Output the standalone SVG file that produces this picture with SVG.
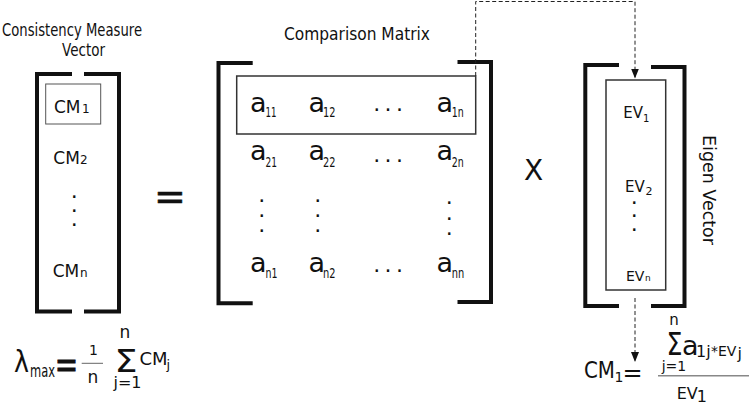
<svg xmlns="http://www.w3.org/2000/svg" width="749" height="405" viewBox="0 0 749 405">
<style>
.t{font-family:"DejaVu Sans","Liberation Sans",sans-serif;fill:#111;}
.br{fill:none;stroke:#111;stroke-width:4;stroke-linejoin:miter;stroke-linecap:butt;}
.box{fill:none;stroke:#333;stroke-width:1.5;}
.dash{fill:none;stroke:#222;stroke-width:1;stroke-dasharray:4 2.5;}
.dot{font-family:"DejaVu Sans",sans-serif;font-size:22px;fill:#111;text-anchor:middle;}
.a{font-size:27px;}
.s{font-size:14px;}
</style>
<defs>
<marker id="arr" markerUnits="userSpaceOnUse" markerWidth="10" markerHeight="8" refX="10" refY="4" orient="auto">
<path d="M0,0 L10,4 L0,8 Z" fill="#111"/>
</marker>
</defs>

<g id="cm-vector">
<text class="t" x="2" y="35.5" font-size="17" textLength="140" lengthAdjust="spacingAndGlyphs">Consistency Measure</text>
<text class="t" x="62" y="55.5" font-size="17" textLength="43" lengthAdjust="spacingAndGlyphs">Vector</text>
<path class="br" d="M72,74 H37 V311.5 H72"/>
<path class="br" d="M84,74 H119 V311.5 H84"/>
<rect x="45.7" y="84" width="55" height="40" fill="none" stroke="#555" stroke-width="1"/>
<text class="t" x="54" y="113" font-size="17">CM<tspan x="82" font-size="12">1</tspan></text>
<text class="t" x="53.3" y="164" font-size="17">CM<tspan x="80" font-size="12">2</tspan></text>
<text class="dot" x="74.3 74.3 74.3" y="198.4 212.4 225.7">...</text>
<text class="t" x="52.7" y="276.7" font-size="17">CM<tspan x="80" font-size="12">n</tspan></text>
</g>

<g id="equals">
<text class="t" x="170" y="208.6" font-size="38" text-anchor="middle" stroke="#111" stroke-width="0.6">=</text>
</g>

<g id="comparison-matrix">
<text class="t" x="284" y="40" font-size="17.5" textLength="146" lengthAdjust="spacingAndGlyphs">Comparison Matrix</text>
<path class="br" d="M252.7,63 H218.5 V303.3 H252.7"/>
<path class="br" d="M457.5,62 H491 V302 H457.5"/>
<rect class="box" x="236.7" y="76" width="239" height="58" stroke="#222"/>
<text class="t a" x="250" y="111.7">a</text><text class="t s" x="265.5" y="116.7" textLength="11" lengthAdjust="spacingAndGlyphs">11</text>
<text class="t a" x="308.4" y="111.7">a</text><text class="t s" x="323" y="116.7" textLength="12.5" lengthAdjust="spacingAndGlyphs">12</text>
<text class="dot" x="376.7 388 399.5" y="111.2">...</text>
<text class="t a" x="436.4" y="111.7">a</text><text class="t s" x="451.7" y="116.7" textLength="12" lengthAdjust="spacingAndGlyphs">1n</text>

<text class="t a" x="250" y="160">a</text><text class="t s" x="265.5" y="166.7" textLength="11.5" lengthAdjust="spacingAndGlyphs">21</text>
<text class="t a" x="308.4" y="160">a</text><text class="t s" x="323" y="166.7" textLength="12.5" lengthAdjust="spacingAndGlyphs">22</text>
<text class="dot" x="376.7 388 399.5" y="161.5">...</text>
<text class="t a" x="436.4" y="160">a</text><text class="t s" x="451.7" y="166.7" textLength="12" lengthAdjust="spacingAndGlyphs">2n</text>

<text class="dot" x="261.7 261.7 261.7" y="201.7 217.4 232.4">...</text>
<text class="dot" x="317.7 317.7 317.7" y="201.7 217.4 232.4">...</text>
<text class="dot" x="449.3 449.3 449.3" y="204 219.7 235">...</text>

<text class="t a" x="250" y="271.7">a</text><text class="t s" x="265.5" y="278.3" textLength="12" lengthAdjust="spacingAndGlyphs">n1</text>
<text class="t a" x="308.4" y="271.7">a</text><text class="t s" x="323" y="278.3" textLength="12.5" lengthAdjust="spacingAndGlyphs">n2</text>
<text class="dot" x="376.7 388 399.5" y="271.7">...</text>
<text class="t a" x="436.4" y="271.7">a</text><text class="t s" x="451.7" y="278.3" textLength="12.5" lengthAdjust="spacingAndGlyphs">nn</text>
</g>

<g id="times">
<text class="t" x="533.5" y="180" font-size="28" text-anchor="middle">X</text>
</g>

<g id="eigen-vector">
<path class="br" d="M619,65 H585.3 V306 H619" stroke-width="4.5"/>
<path class="br" d="M651,67 H684.5 V306 H651" stroke-width="4.5"/>
<rect class="box" x="606" y="80" width="59.7" height="210"/>
<text class="t" x="623.3" y="118.3" font-size="15">EV<tspan x="643" y="121.5" font-size="10">1</tspan></text>
<text class="t" x="625" y="191.7" font-size="15">EV<tspan x="645.5" y="195" font-size="11">2</tspan></text>
<text class="dot" x="634.3 634.3 634.3" y="203.7 217.2 230.7">...</text>
<text class="t" x="626" y="281" font-size="14">EV<tspan x="645" font-size="9">n</tspan></text>
<text class="t" transform="translate(703,135) rotate(90)" x="0" y="0" font-size="17" textLength="110" lengthAdjust="spacingAndGlyphs">Eigen Vector</text>
</g>

<g id="lambda-formula">
<text class="t" x="14" y="372" font-size="31" textLength="15" lengthAdjust="spacingAndGlyphs">λ</text>
<text class="t" x="30" y="376.7" font-size="17" textLength="25" lengthAdjust="spacingAndGlyphs">max</text>
<text class="t" transform="translate(66.5,377) scale(1,1.3)" x="0" y="0" font-size="28" text-anchor="middle" stroke="#111" stroke-width="0.6">=</text>
<text class="t" x="93.5" y="355" font-size="14" text-anchor="middle">1</text>
<line x1="81.7" y1="363.3" x2="103" y2="363.3" stroke="#666" stroke-width="1"/>
<text class="t" x="93" y="383.3" font-size="17" text-anchor="middle">n</text>
<text class="t" x="125" y="338" font-size="17" text-anchor="middle">n</text>
<text class="t" x="114.5" y="372" font-size="32" textLength="23" lengthAdjust="spacingAndGlyphs">Σ</text>
<text class="t" x="127.5" y="388" font-size="16" text-anchor="middle">j=1</text>
<text class="t" x="139.5" y="365" font-size="18">CM</text>
<text class="t" x="166.5" y="369" font-size="13">j</text>
</g>

<g id="cm1-formula">
<text class="t" x="584" y="378.3" font-size="23" textLength="31" lengthAdjust="spacingAndGlyphs">CM</text>
<text class="t" x="614.5" y="381.7" font-size="14">1</text>
<text class="t" x="632.5" y="380.6" font-size="24" text-anchor="middle">=</text>
<line x1="658" y1="375.7" x2="749" y2="375.7" stroke="#888" stroke-width="1.5"/>
<text class="t" x="674" y="325" font-size="15" text-anchor="middle">n</text>
<text class="t" x="666.5" y="355" font-size="32" textLength="16" lengthAdjust="spacingAndGlyphs">Σ</text>
<text class="t" x="682" y="355" font-size="27">a</text>
<text class="t" x="696" y="357.3" font-size="16">1j</text>
<text class="t" x="711" y="356" font-size="14">*EV</text>
<text class="t" x="737.5" y="358.5" font-size="16">j</text>
<text class="t" x="674" y="371" font-size="14" text-anchor="middle">j=1</text>
<text class="t" x="676.7" y="399" font-size="16">EV<tspan x="696.7" y="402">1</tspan></text>
</g>

<g id="connectors">
<path class="dash" d="M475.7,76 V1.5 H635 V78.5" marker-end="url(#arr)"/>
<path class="dash" d="M635,298 V362" marker-end="url(#arr)"/>
</g>
</svg>
